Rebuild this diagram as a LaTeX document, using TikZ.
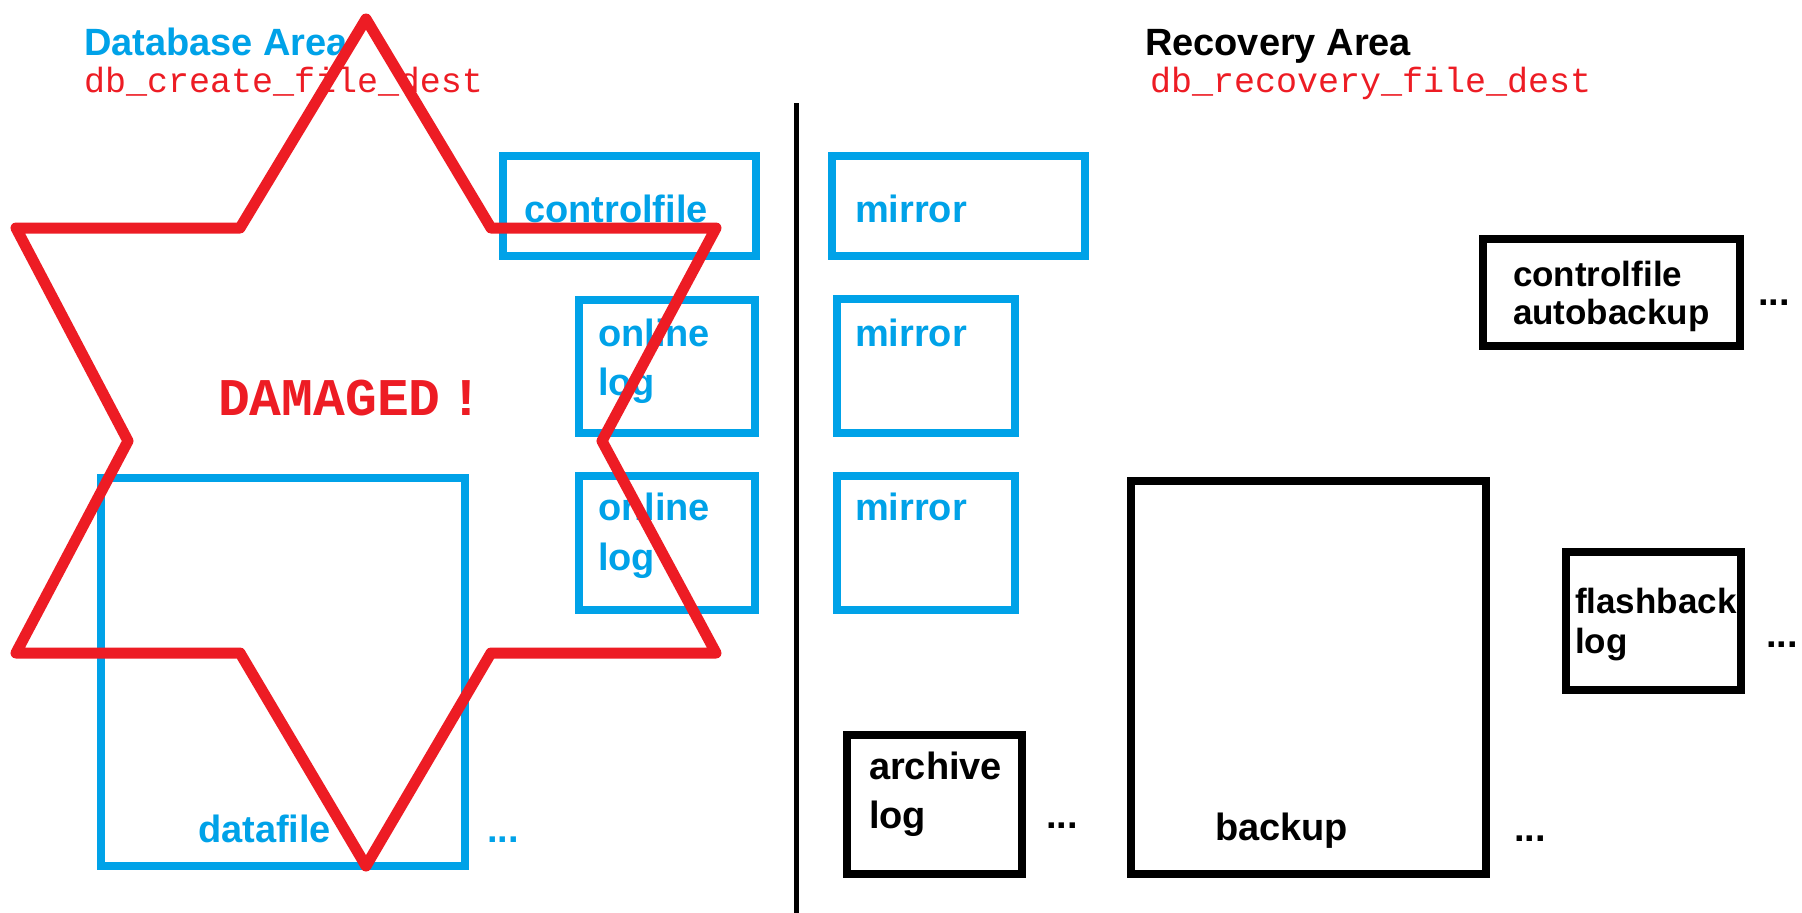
\documentclass[tikz,border=0pt]{standalone}
\usepackage{fontspec}
\setmainfont{Liberation Sans}
\newfontfamily\monof{Liberation Mono}
\definecolor{cblue}{HTML}{00A2E8}
\definecolor{cred}{HTML}{ED1C24}
\begin{document}
\begin{tikzpicture}[x=1pt,y=-1pt,
  boxb/.style={draw=cblue, line width=8pt, anchor=north west, inner sep=0pt, outer sep=0pt},
  boxk/.style={draw=black, line width=8pt, anchor=north west, inner sep=0pt, outer sep=0pt},
  lbl/.style={anchor=base west, inner sep=0pt, outer sep=0pt, font=\bfseries\fontsize{38}{44}\selectfont},
  lbls/.style={anchor=base west, inner sep=0pt, outer sep=0pt, font=\bfseries\fontsize{35}{39}\selectfont},
  bl/.style={lbl, text=cblue},
  kl/.style={lbl, text=black},
  mono/.style={anchor=base west, inner sep=0pt, outer sep=0pt, text=cred, font=\monof\fontsize{35}{40}\selectfont},
  star/.style={draw=cred, line width=11pt, line join=round}
]
\useasboundingbox (0,0) rectangle (1802,913);
\fill[white] (0,0) rectangle (1802,913);

% titles
\node[bl] (dbarea) at (84,55) {Database Area};
\node[mono] (dbdest) at (84,92) {db\_create\_file\_dest};
\node[kl] (rcarea) at (1145,55) {Recovery Area};
\node[mono] (rcdest) at (1150,92) {db\_recovery\_file\_dest};

% divider
\coordinate (divtop) at (796,103);
\coordinate (divbot) at (796,913);
\draw[line width=5pt] (divtop) -- (divbot);

% database area boxes
\node[boxb, minimum width=253pt, minimum height=100pt] (cfL) at (503,156) {};
\node[bl] (cfLt) at (524,222) {controlfile};
\node[boxb, minimum width=176pt, minimum height=133pt] (ol1) at (579,300) {};
\node[bl] (ol1a) at (598,346) {online};
\node[bl] (ol1b) at (598,395) {log};
\node[boxb, minimum width=176pt, minimum height=134pt] (ol2) at (579,476) {};
\node[bl] (ol2a) at (598,520) {online};
\node[bl] (ol2b) at (598,570) {log};
\node[boxb, minimum width=364pt, minimum height=388pt] (df) at (101,478) {};
\node[bl] (dft) at (198,842) {datafile};
\node[bl] (dfdots) at (487,842) {...};

% recovery area boxes
\node[boxb, minimum width=253pt, minimum height=100pt] (m1) at (832,156) {};
\node[bl] (m1t) at (855,222) {mirror};
\node[boxb, minimum width=178pt, minimum height=134pt] (m2) at (837,299) {};
\node[bl] (m2t) at (855,346) {mirror};
\node[boxb, minimum width=178pt, minimum height=134pt] (m3) at (837,476) {};
\node[bl] (m3t) at (855,520) {mirror};

\node[boxk, minimum width=257pt, minimum height=107pt] (cfa) at (1483,239) {};
\node[lbls] (cfat1) at (1513,286) {controlfile};
\node[lbls] (cfat2) at (1513,324) {autobackup};
\node[kl] (cfadots) at (1758,305) {...};

\node[boxk, minimum width=175pt, minimum height=138pt] (fb) at (1566,552) {};
\node[lbls] (fbt1) at (1575,613) {flashback};
\node[lbls] (fbt2) at (1575,653) {log};
\node[kl] (fbdots) at (1766,647) {...};

\node[boxk, minimum width=175pt, minimum height=139pt] (arc) at (847,735) {};
\node[kl] (arct1) at (869,779) {archive};
\node[kl] (arct2) at (869,828) {log};
\node[kl] (arcdots) at (1046,828) {...};

\node[boxk, minimum width=355pt, minimum height=393pt] (bk) at (1131,481) {};
\node[kl] (bkt) at (1215,840) {backup};
\node[kl] (bkdots) at (1514,841) {...};

% damaged star
\node[anchor=base west, inner sep=0pt, outer sep=0pt, text=cred, font=\monof\bfseries\fontsize{53}{56}\selectfont] (dmg) at (218,415) {DAMAGED\hspace{10pt}!};
\draw[star] (366,19) -- (491,228) -- (716,228) -- (602,441) -- (716,653) -- (491,653)
  -- (366,866) -- (240,653) -- (16,653) -- (128,441) -- (16,228) -- (240,228) -- cycle;
\end{tikzpicture}
\end{document}
